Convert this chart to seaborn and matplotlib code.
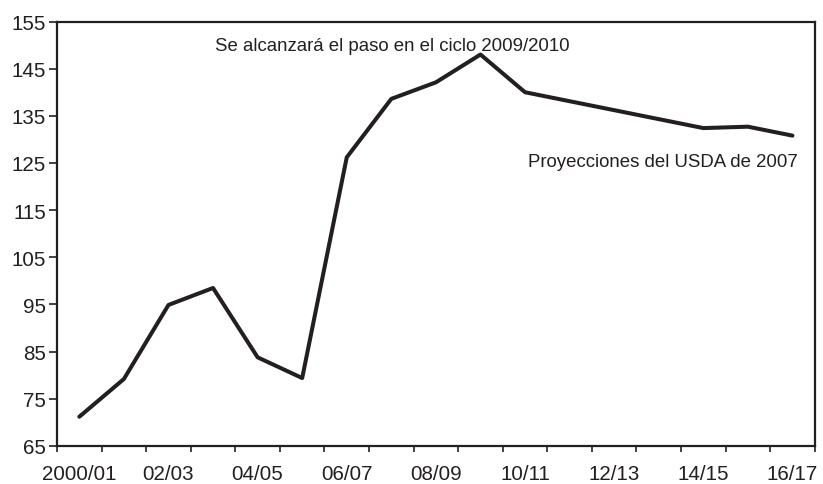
import matplotlib
matplotlib.use("Agg")
import matplotlib.pyplot as plt
import numpy as np
import pandas as pd
import seaborn as sns

sns.set_style("ticks")
plt.rcParams['font.family'] = ['Liberation Sans', 'DejaVu Sans']

# marketing years and the values
seasons = ["2000/01", "01/02", "02/03", "03/04", "04/05", "05/06", "06/07", "07/08",
           "08/09", "09/10", "10/11", "11/12", "12/13", "13/14", "14/15", "15/16", "16/17"]
values = [71.2, 79.2, 94.9, 98.5, 83.8, 79.4, 126.2, 138.6, 142.1, 148.0,
          140.0, 138.1, 136.2, 134.3, 132.4, 132.7, 130.8]
tick_labels = ["2000/01", "02/03", "04/05", "06/07", "08/09", "10/11", "12/13", "14/15", "16/17"]
y_ticks = [65, 75, 85, 95, 105, 115, 125, 135, 145, 155]

df = pd.DataFrame({"season": seasons, "value": values})
df["pos"] = np.arange(len(seasons))

line_color = "#231f20"

fig = plt.figure(figsize=(8.23, 4.85), dpi=100)
ax = fig.add_axes([0.0693, 0.0784, 0.9207, 0.8752])

sns.lineplot(data=df, x="pos", y="value", ax=ax, color=line_color, linewidth=2.9)

ax.set_xlim(-0.5, len(seasons) - 0.5)
ax.set_ylim(65, 155)
ax.set_yticks(y_ticks)
ax.set_yticklabels([str(v) for v in y_ticks])

# labels in the middle of every other season, ticks on the season borders
ax.set_xticks(np.arange(0, len(seasons), 2))
ax.set_xticklabels(tick_labels)
ax.set_xticks(np.arange(-0.5, len(seasons), 1), minor=True)
ax.tick_params(axis="x", which="major", length=0, labelsize=14.8, pad=13, colors=line_color)
ax.tick_params(axis="x", which="minor", length=4, width=1.2, color=line_color)
ax.tick_params(axis="y", length=6, width=1.2, labelsize=14.8, pad=2, colors=line_color)

for side in ["left", "right", "top", "bottom"]:
    ax.spines[side].set_visible(True)
    ax.spines[side].set_linewidth(1.6)
    ax.spines[side].set_color(line_color)

ax.set_xlabel("")
ax.set_ylabel("")

ax.text(3.04, 149, "Se alcanzará el paso en el ciclo 2009/2010", fontsize=13.4,
        color=line_color, va="baseline", ha="left")
ax.text(16.12, 124.4, "Proyecciones del USDA de 2007", fontsize=13.4,
        color=line_color, va="baseline", ha="right")

fig.savefig("out.png", dpi=100)
